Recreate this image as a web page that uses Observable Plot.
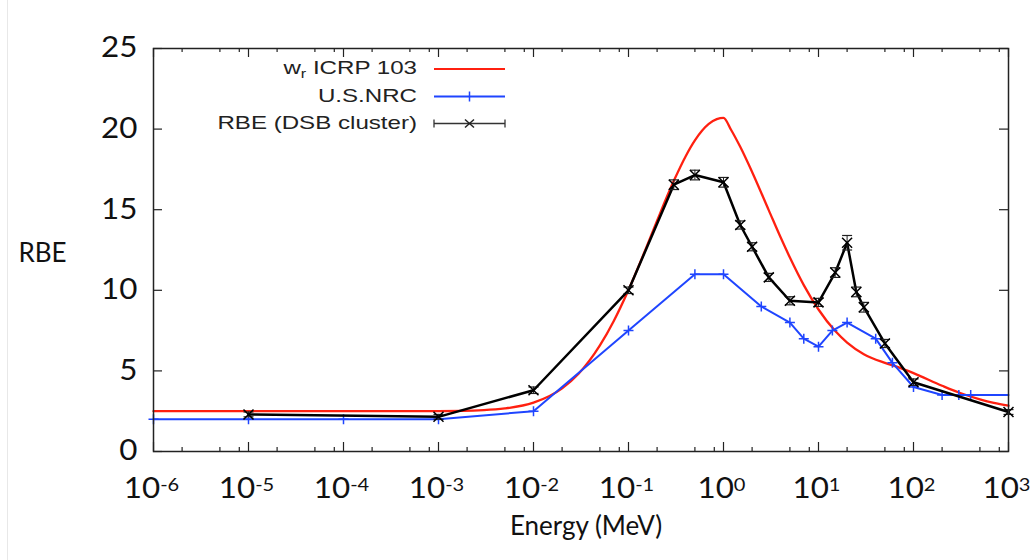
<!DOCTYPE html>
<html><head><meta charset="utf-8">
<script src="https://cdn.jsdelivr.net/npm/d3@7"></script>
<script src="https://cdn.jsdelivr.net/npm/@observablehq/plot@0.6"></script>
<style>
body{margin:0;background:#fff;}
#wrap{position:relative;width:1030px;height:560px;overflow:hidden;}
#edge{position:absolute;left:7px;top:0;width:1px;height:560px;background:#e8e8e8;}
#legend{position:absolute;left:0;top:0;}
</style></head><body><div id="wrap"><div id="edge"></div></div>
<script>
// ICRP 103 radiation weighting factor curve
const redE = [1e-6,1e-5,1e-4,1e-3,3e-3,5e-3,0.01,0.02,0.03,0.05,0.07,0.1,0.15,0.2,0.3,0.4,0.5,0.7,0.85,1,1.2,1.5,2,3,4,5,7,10,15,20,30,50,70,100,200,300,500,700,1000];
const redW = [2.5,2.5,2.5,2.51,2.57,2.67,3.03,3.92,4.84,6.58,8.10,10.02,12.49,14.32,16.79,18.32,19.30,20.32,20.62,20.70,19.96,18.90,17.34,14.96,13.27,12.03,10.32,8.81,7.47,6.76,6.04,5.50,5.22,4.86,4.08,3.66,3.23,3.01,2.84];
// U.S.NRC quality factors
const blueE = [1e-6,1e-5,1e-4,1e-3,1e-2,0.1,0.5,1,2.5,5,7,10,14,20,40,60,100,200,300,400,1000];
const blueQ = [2,2,2,2,2.5,7.5,11,11,9,8,7,6.5,7.5,8,7,5.5,4,3.5,3.5,3.5,3.5];
// RBE (DSB cluster) with error bars
const blackE = [1e-5,1e-3,1e-2,0.1,0.3,0.5,1,1.5,2,3,5,10,15,20,25,30,50,100,1000];
const blackR = [2.3,2.15,3.8,10.0,16.55,17.15,16.7,14.05,12.7,10.8,9.35,9.25,11.1,12.95,9.9,8.95,6.7,4.3,2.45];
const blackErr = [0.15,0.15,0.2,0.2,0.3,0.3,0.3,0.25,0.25,0.25,0.25,0.25,0.3,0.45,0.3,0.3,0.25,0.2,0.15];
// axis ticks
const xMajor = [1e-6,1e-5,1e-4,1e-3,1e-2,1e-1,1,10,100,1000];
const xMinorMult = [2,5,8];
const yMajor = [0,5,10,15,20,25];

const W = 1030, H = 560, mL = 153, mR = 22, mT = 48, mB = 109;
const innerW = W - mL - mR, innerH = H - mT - mB;
const RED = "#ff2010", BLUE = "#1f45ff", BLACK = "#000";
const TICK_STRETCH = 1.12;

const red = redE.map((e, i) => ({E: e, v: redW[i]}));
const blue = blueE.map((e, i) => ({E: e, v: blueQ[i]}));
const black = blackE.map((e, i) => ({E: e, v: blackR[i], lo: blackR[i] - blackErr[i], hi: blackR[i] + blackErr[i]}));
const xMinor = xMajor.slice(0, -1).flatMap(d => xMinorMult.map(m => d * m));

const rad = s => Math.sqrt(s / Math.PI);
const capSym = {draw(ctx, size) { const r = rad(size); ctx.moveTo(-r, 0); ctx.lineTo(r, 0); }};
const crossSym = {draw(ctx, size) { const r = rad(size); ctx.moveTo(-r, -r); ctx.lineTo(r, r); ctx.moveTo(-r, r); ctx.lineTo(r, -r); }};
const plusSym = {draw(ctx, size) { const r = rad(size); ctx.moveTo(-r, 0); ctx.lineTo(r, 0); ctx.moveTo(0, -r); ctx.lineTo(0, r); }};

const chart = Plot.plot({
  width: W, height: H,
  marginLeft: mL, marginRight: mR, marginTop: mT, marginBottom: mB,
  style: {fontFamily: "Lato, 'Open Sans', sans-serif", fontSize: "25px", color: "#111", background: "#fff"},
  x: {type: "log", domain: [1e-6, 1e3]},
  y: {domain: [0, 25]},
  marks: [
    Plot.line(red, {x: "E", y: "v", stroke: RED, strokeWidth: 2.3, curve: "monotone-x"}),
    Plot.line(blue, {x: "E", y: "v", stroke: BLUE, strokeWidth: 2}),
    Plot.dot(blue.filter(d => d.E <= 400), {x: "E", y: "v", symbol: plusSym, r: 5, stroke: BLUE, strokeWidth: 1.5}),
    Plot.line(black, {x: "E", y: "v", stroke: BLACK, strokeWidth: 2.5}),
    Plot.ruleX(black, {x: "E", y1: "lo", y2: "hi", stroke: "#222", strokeWidth: 1}),
    Plot.dot(black, {x: "E", y: "lo", symbol: capSym, r: 5, stroke: "#222", strokeWidth: 1.2}),
    Plot.dot(black, {x: "E", y: "hi", symbol: capSym, r: 5, stroke: "#222", strokeWidth: 1.2}),
    Plot.dot(black, {x: "E", y: "v", symbol: crossSym, r: 5, stroke: BLACK, strokeWidth: 1.5}),
    Plot.ruleX(xMajor, {insetTop: innerH - 9, stroke: "#222", strokeWidth: 1.2}),
    Plot.ruleX(xMajor, {insetBottom: innerH - 9, stroke: "#222", strokeWidth: 1.2}),
    Plot.ruleX(xMinor, {insetTop: innerH - 4, stroke: "#222", strokeWidth: 1.2}),
    Plot.ruleX(xMinor, {insetBottom: innerH - 4, stroke: "#222", strokeWidth: 1.2}),
    Plot.ruleY(yMajor, {insetRight: innerW - 9, stroke: "#222", strokeWidth: 1.2}),
    Plot.ruleY(yMajor, {insetLeft: innerW - 9, stroke: "#222", strokeWidth: 1.2}),
    Plot.frame({stroke: "#222", strokeWidth: 1.5}),
    Plot.axisX({ticks: xMajor, tickSize: 0, tickPadding: 27, label: null, fontSize: 28, dx: -2,
      tickFormat: d => "10^" + Math.round(Math.log10(d))}),
    Plot.axisY({ticks: yMajor, tickSize: 0, tickPadding: 16, label: null, fontSize: 28}),
    Plot.text(["RBE"], {frameAnchor: "left", text: d => d, dx: -135, dy: 4, textAnchor: "start", fontSize: 26, fill: "#111"}),
    Plot.text(["Energy (MeV)"], {frameAnchor: "bottom", text: d => d, dx: 5, dy: 83, textAnchor: "middle", fontSize: 26, fill: "#111"})
  ]
});

const ns = "http://www.w3.org/2000/svg";
function stretch(t, s) {
  const tr = t.getAttribute("transform");
  if (tr) {
    t.setAttribute("transform", tr + ` scale(${s},1)`);
  } else {
    const x = +t.getAttribute("x") || 0, y = +t.getAttribute("y") || 0;
    t.setAttribute("x", 0); t.setAttribute("y", 0);
    t.setAttribute("transform", `translate(${x},${y}) scale(${s},1)`);
  }
}
// superscript exponents on x tick labels
chart.querySelectorAll('g[aria-label="x-axis tick label"] text').forEach(t => {
  const m = t.textContent.match(/^10\^(-?\d+)$/);
  if (m) {
    t.textContent = "10";
    const sp = document.createElementNS(ns, "tspan");
    sp.setAttribute("dy", "-0.42em");
    sp.setAttribute("font-size", "0.64em");
    sp.textContent = m[1];
    t.appendChild(sp);
  }
  stretch(t, TICK_STRETCH);
});
chart.querySelectorAll('g[aria-label="y-axis tick label"] text').forEach(t => stretch(t, TICK_STRETCH));

document.getElementById("wrap").appendChild(chart);

// legend overlay
const leg = document.createElementNS(ns, "svg");
leg.setAttribute("id", "legend");
leg.setAttribute("width", W); leg.setAttribute("height", 160);
leg.innerHTML = `
<g font-family="'Liberation Sans', Arial, sans-serif" font-size="18" fill="#222" text-anchor="end" transform="translate(417,0) scale(1.34,1)">
  <text x="0" y="74.5">w<tspan dy="4" font-size="12">r</tspan><tspan dy="-4"> ICRP 103</tspan></text>
  <text x="0" y="102">U.S.NRC</text>
  <text x="0" y="129">RBE (DSB cluster)</text>
</g>
<line x1="434" x2="505" y1="69" y2="69" stroke="${RED}" stroke-width="2"/>
<line x1="434" x2="505" y1="96.5" y2="96.5" stroke="${BLUE}" stroke-width="2"/>
<line x1="469.5" x2="469.5" y1="91.5" y2="101.5" stroke="${BLUE}" stroke-width="1.5"/>
<line x1="434" x2="505" y1="123.5" y2="123.5" stroke="#333" stroke-width="1.3"/>
<line x1="434" x2="434" y1="119.5" y2="127.5" stroke="#333" stroke-width="1.3"/>
<line x1="505" x2="505" y1="119.5" y2="127.5" stroke="#333" stroke-width="1.3"/>
<path d="M465,119.5L474,127.5M465,127.5L474,119.5" stroke="#222" stroke-width="1.5"/>`;
document.getElementById("wrap").appendChild(leg);
</script>
</body></html>
